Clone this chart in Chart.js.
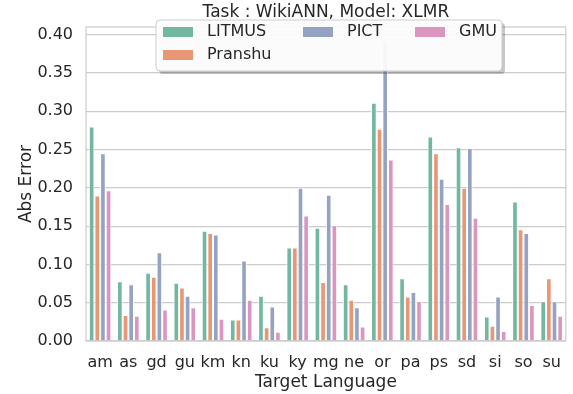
<!DOCTYPE html>
<html>
<head>
<meta charset="utf-8">
<script src="https://cdn.jsdelivr.net/npm/chart.js@4"></script>
<style>
  html, body { margin: 0; padding: 0; background: #fff; }
  #wrap { width: 573px; height: 394px; }
</style>
</head>
<body>
<div id="wrap"><canvas id="errChart" width="573" height="394"></canvas></div>
<script>
const languages = ["am", "as", "gd", "gu", "km", "kn", "ku", "ky", "mg", "ne", "or", "pa", "ps", "sd", "si", "so", "su"];
const litmus  = [0.280, 0.078, 0.089, 0.076, 0.144, 0.028, 0.059, 0.122, 0.148, 0.074, 0.311, 0.082, 0.267, 0.253, 0.032, 0.182, 0.052];
const pranshu = [0.190, 0.034, 0.084, 0.070, 0.141, 0.028, 0.018, 0.122, 0.077, 0.054, 0.277, 0.058, 0.245, 0.200, 0.020, 0.146, 0.082];
const pict    = [0.245, 0.074, 0.116, 0.059, 0.139, 0.105, 0.045, 0.200, 0.191, 0.044, 0.390, 0.064, 0.212, 0.252, 0.058, 0.141, 0.052];
const gmu     = [0.197, 0.033, 0.041, 0.044, 0.029, 0.054, 0.012, 0.164, 0.151, 0.019, 0.237, 0.052, 0.179, 0.161, 0.013, 0.047, 0.033];
const yTicks = [0, 0.05, 0.10, 0.15, 0.20, 0.25, 0.30, 0.35, 0.40];

const FONT = "'DejaVu Sans', sans-serif";
const TEXT = "#262626";
const GRID = "#cccccc";

// legend + title + frame drawn by hand so the legend can sit on top of the plot
const overlay = {
    id: "overlay",
    afterDraw(chart) {
        const ctx = chart.ctx;
        const a = chart.chartArea;
        ctx.save();
        // frame
        ctx.strokeStyle = GRID;
        ctx.lineWidth = 1.2;
        ctx.strokeRect(a.left, a.top, a.right - a.left, a.bottom - a.top);

        // title
        ctx.fillStyle = TEXT;
        ctx.font = "17px " + FONT;
        ctx.textAlign = "center";
        ctx.textBaseline = "middle";
        ctx.fillText("Task : WikiANN, Model: XLMR", (a.left + a.right) / 2, 13);

        // legend box
        const bx = 156, by = 20, bw = 346, bh = 51;
        ctx.fillStyle = "rgba(0,0,0,0.22)";
        roundRect(ctx, bx + 3, by + 3, bw, bh, 4); ctx.fill();
        ctx.fillStyle = "rgba(255,255,255,0.93)";
        ctx.strokeStyle = GRID;
        ctx.lineWidth = 1;
        roundRect(ctx, bx, by, bw, bh, 4); ctx.fill(); ctx.stroke();

        const slots = [[163, 32], [163, 55], [303, 32], [415, 32]];
        ctx.font = "16px " + FONT;
        ctx.textAlign = "left";
        chart.data.datasets.forEach((ds, i) => {
            const [x, y] = slots[i];
            ctx.fillStyle = ds.backgroundColor;
            ctx.fillRect(x, y - 5, 30, 10);
            ctx.fillStyle = TEXT;
            ctx.fillText(ds.label, x + 44, y);
        });
        ctx.restore();
    }
};

function roundRect(ctx, x, y, w, h, r) {
    ctx.beginPath();
    ctx.moveTo(x + r, y);
    ctx.lineTo(x + w - r, y);
    ctx.quadraticCurveTo(x + w, y, x + w, y + r);
    ctx.lineTo(x + w, y + h - r);
    ctx.quadraticCurveTo(x + w, y + h, x + w - r, y + h);
    ctx.lineTo(x + r, y + h);
    ctx.quadraticCurveTo(x, y + h, x, y + h - r);
    ctx.lineTo(x, y + r);
    ctx.quadraticCurveTo(x, y, x + r, y);
    ctx.closePath();
}

function bars(label, data, color) {
    return {
        label: label,
        data: data,
        backgroundColor: color,
        borderColor: "#ffffff",
        borderWidth: 1,
        categoryPercentage: 0.8,
        barPercentage: 1.0
    };
}

const ctx = document.getElementById("errChart").getContext("2d");
new Chart(ctx, {
    type: "bar",
    data: {
        labels: languages,
        datasets: [
            bars("LITMUS", litmus, "#72b7a1"),
            bars("Pranshu", pranshu, "#e99675"),
            bars("PICT", pict, "#95a3c3"),
            bars("GMU", gmu, "#db96c0")
        ]
    },
    options: {
        responsive: false,
        animation: false,
        layout: { padding: { top: 27, right: 3, left: 12, bottom: 0 } },
        plugins: {
            legend: { display: false },
            title: { display: false },
            tooltip: { enabled: false }
        },
        scales: {
            x: {
                grid: { display: false, drawTicks: false },
                border: { display: false },
                ticks: { color: TEXT, font: { family: FONT, size: 16 }, padding: 12, maxRotation: 0, autoSkip: false },
                title: { display: true, text: "Target Language", color: TEXT, font: { family: FONT, size: 17 }, padding: { top: 0, bottom: 1 } },
                afterFit(scale) { scale.height = 53; }
            },
            y: {
                min: 0,
                max: 0.41,
                grid: { color: GRID, lineWidth: 1.2, drawTicks: false },
                border: { display: false },
                afterBuildTicks(scale) { scale.ticks = yTicks.map(v => ({ value: v })); },
                ticks: {
                    color: TEXT,
                    font: { family: FONT, size: 16 },
                    padding: 13,
                    callback: v => v.toFixed(2)
                },
                title: { display: true, text: "Abs Error", color: TEXT, font: { family: FONT, size: 17 }, padding: { bottom: 4 } },
                afterFit(scale) { scale.width = 74; }
            }
        }
    },
    plugins: [overlay]
});
</script>
</body>
</html>
